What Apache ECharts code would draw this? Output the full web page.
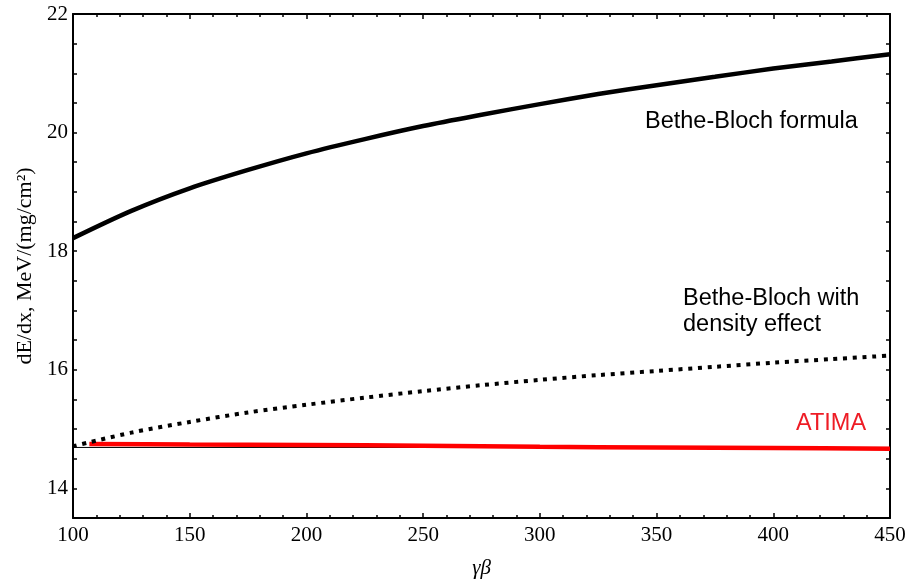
<!DOCTYPE html>
<html>
<head>
<meta charset="utf-8">
<script src="https://cdn.jsdelivr.net/npm/echarts@6/dist/echarts.min.js"></script>
<style>html,body{margin:0;padding:0;background:#fff}#c{width:924px;height:584px}</style>
</head>
<body>
<div id="c"></div>
<script>
// gamma*beta sample points (x)
const gammaBeta = [100,125,150,175,200,225,250,275,300,325,350,375,400,425,450];
// Bethe-Bloch formula (solid black)
const betheBloch = [18.22,18.68,19.06,19.37,19.65,19.89,20.11,20.30,20.48,20.65,20.80,20.94,21.08,21.20,21.32];
// Bethe-Bloch with density effect (dotted)
const betheDensity = [14.71,14.94,15.12,15.28,15.41,15.53,15.64,15.74,15.83,15.91,15.98,16.05,16.12,16.18,16.24];
// ATIMA (red)
const atimaX = [107,150,200,250,300,350,400,450];
const atimaY = [14.75,14.74,14.73,14.72,14.70,14.69,14.68,14.67];
// thin reference line
const refX = [100,450];
const refY = [14.69,14.69];
// axis ticks
const xTicks = [100,150,200,250,300,350,400,450];
const yTicks = [14,16,18,20,22];
const yRange = [13.5,22];

const zip = (xs, ys) => xs.map((x,i)=>[x, ys[i]]);
const serif = "'Liberation Serif','Times New Roman',serif";
const sans = "'Liberation Sans',Arial,sans-serif";

const chart = echarts.init(document.getElementById('c'), null, {renderer:'canvas'});
const axisLine = {show:true, lineStyle:{color:'#000', width:2}};
const xCommon = {
  type:'value', min:xTicks[0], max:xTicks[xTicks.length-1], interval:50,
  axisLine, splitLine:{show:false},
  axisTick:{show:true, inside:true, length:5, lineStyle:{color:'#000', width:1.5}},
  minorTick:{show:true, splitNumber:5, length:3, lineStyle:{color:'#000', width:1.5}}
};
const yCommon = {
  type:'value', min:yRange[0], max:yRange[1], interval:0.5,
  axisLine, splitLine:{show:false},
  axisTick:{show:true, inside:true, length:4, lineStyle:{color:'#000', width:1.5}}
};
chart.setOption({
  backgroundColor:'#fff',
  animation:false,
  grid:{left:73, right:34, top:14, bottom:65},
  xAxis:[
    Object.assign({}, xCommon, {
      position:'bottom',
      axisLabel:{show:true, fontFamily:serif, fontSize:21, color:'#000', margin:7},
      name:'γβ', nameLocation:'middle', nameGap:40,
      nameTextStyle:{fontFamily:serif, fontStyle:'italic', fontSize:21, color:'#000'}
    }),
    Object.assign({}, xCommon, {position:'top', axisLabel:{show:false}})
  ],
  yAxis:[
    Object.assign({}, yCommon, {
      position:'left',
      axisLabel:{show:true, customValues:yTicks, fontFamily:serif, fontSize:21, color:'#000', margin:5},
      name:'dE/dx, MeV/(mg/cm²)', nameLocation:'middle', nameGap:33,
      nameTextStyle:{fontFamily:serif, fontSize:22, color:'#000'}
    }),
    Object.assign({}, yCommon, {position:'right', axisLabel:{show:false}})
  ],
  series:[
    {type:'line', name:'ref', data:zip(refX, refY), showSymbol:false, symbol:'none',
     lineStyle:{color:'#000', width:1}, z:1},
    {type:'line', name:'Bethe-Bloch formula', data:zip(gammaBeta, betheBloch), smooth:0.3, symbol:'none',
     lineStyle:{color:'#000', width:4.5}, z:3},
    {type:'line', name:'Bethe-Bloch with density effect', data:zip(gammaBeta, betheDensity), smooth:0.3, symbol:'none',
     lineStyle:{color:'#000', width:4, type:[4,5.7], cap:'butt'}, z:3},
    {type:'line', name:'ATIMA', data:zip(atimaX, atimaY), smooth:0.3, symbol:'none',
     lineStyle:{color:'#ff0000', width:4.5}, z:2}
  ],
  graphic:[
    {type:'text', x:645, y:122, style:{text:'Bethe-Bloch formula', font:"23.5px "+sans, fill:'#000', verticalAlign:'middle'}},
    {type:'text', x:683, y:299, style:{text:'Bethe-Bloch with', font:"23.5px "+sans, fill:'#000', verticalAlign:'middle'}},
    {type:'text', x:683, y:325, style:{text:'density effect', font:"23.5px "+sans, fill:'#000', verticalAlign:'middle'}},
    {type:'text', x:796, y:424, style:{text:'ATIMA', font:"23.5px "+sans, fill:'#ee1c25', verticalAlign:'middle'}}
  ]
});
</script>
</body>
</html>
